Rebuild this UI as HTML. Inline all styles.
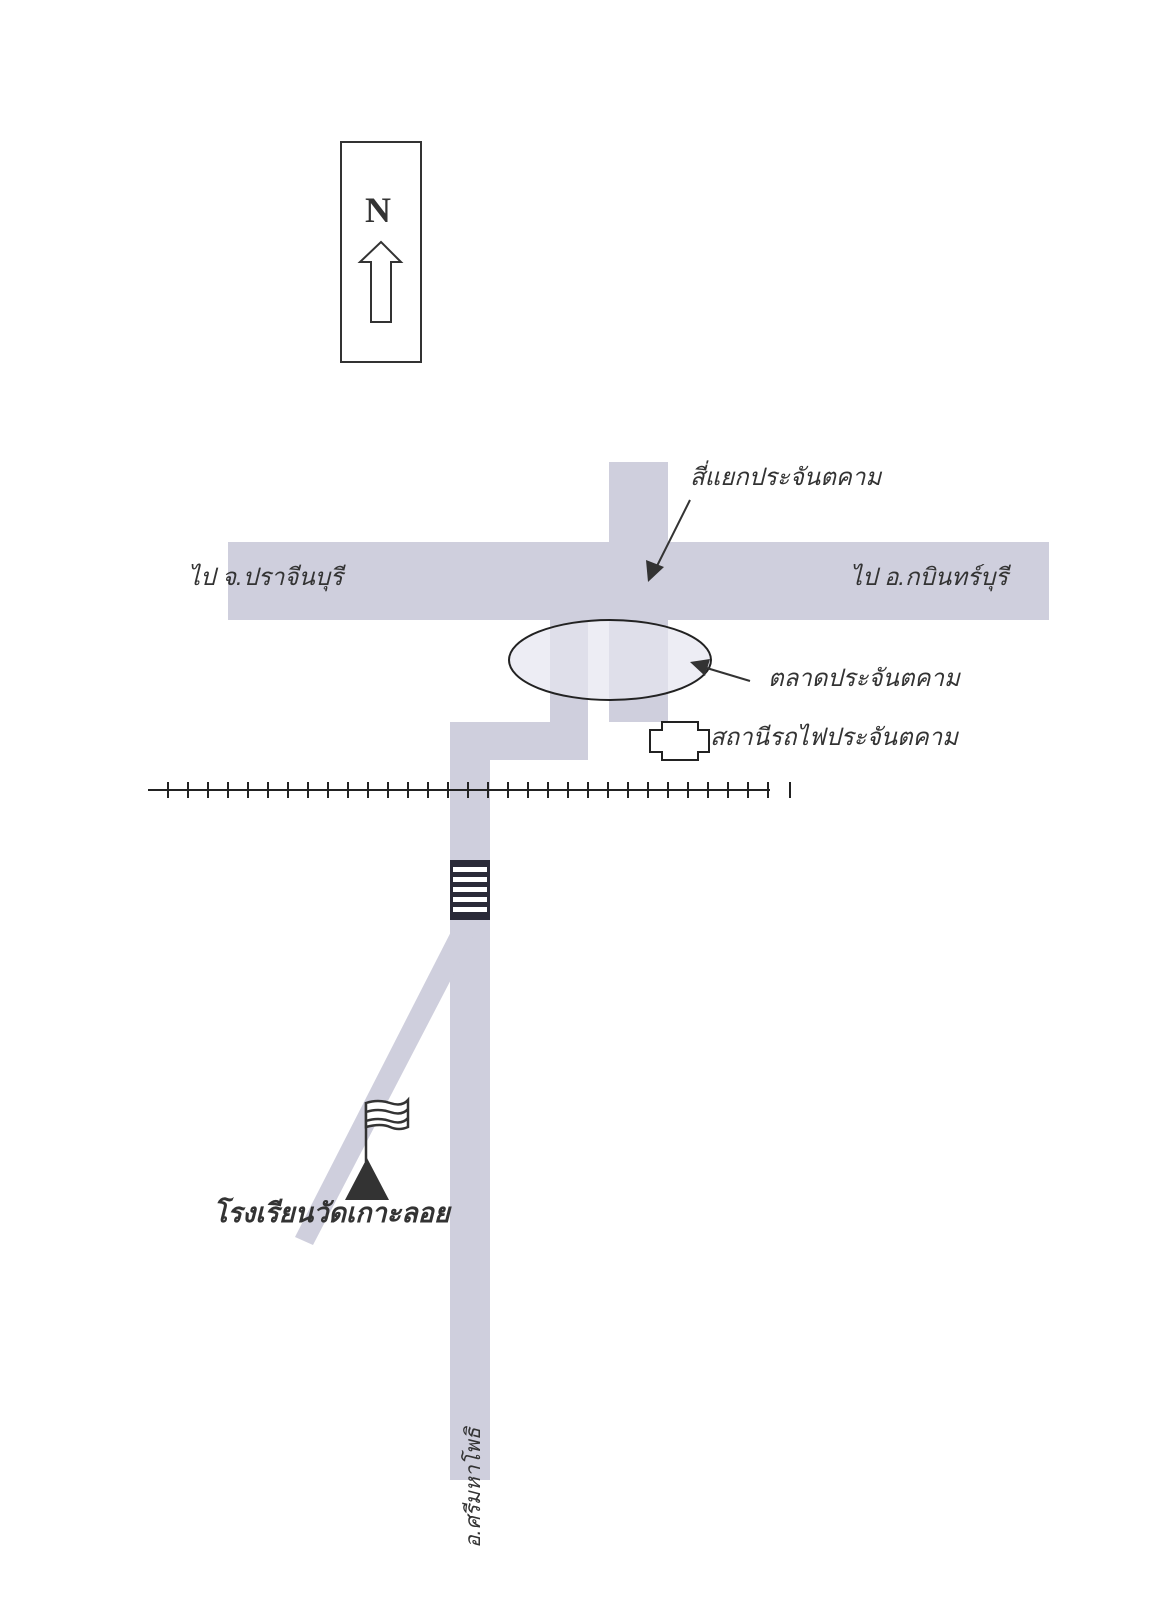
<!DOCTYPE html>
<html><head><meta charset="utf-8"><style>
body{margin:0;background:#fff}
svg{display:block}
text{font-family:"Liberation Sans","Noto Sans CJK SC",sans-serif;font-style:italic;fill:#333}
</style></head><body>
<svg width="1166" height="1617" viewBox="0 0 1166 1617">
<g fill="#cfcfdd">
<rect x="609" y="462" width="59" height="260"/>
<rect x="228" y="542" width="821" height="78"/>
<rect x="550" y="620" width="38" height="140"/>
<rect x="450" y="722" width="138" height="38"/>
<rect x="450" y="722" width="40" height="758"/>
<polygon points="458,918 483,918 313,1245 295,1237"/>
</g>
<ellipse cx="610" cy="660" rx="101" ry="40" fill="#e6e6f0" fill-opacity="0.7" stroke="#222" stroke-width="2"/>
<g stroke="#333" stroke-width="2" fill="none">
<line x1="690" y1="500" x2="655" y2="570"/>
<line x1="750" y1="681" x2="700" y2="666"/>
</g>
<polygon points="648,582 646,560 664,567" fill="#333"/>
<polygon points="690,662 710,659 705,676" fill="#333"/>
<polygon points="662,722 698,722 698,730 709,730 709,752 698,752 698,760 662,760 662,752 650,752 650,730 662,730" fill="#fff" stroke="#222" stroke-width="2"/>
<line x1="148" y1="790" x2="770" y2="790" stroke="#222" stroke-width="2"/>
<g stroke="#222" stroke-width="2">
<line x1="168" y1="782" x2="168" y2="798"/><line x1="188" y1="782" x2="188" y2="798"/><line x1="208" y1="782" x2="208" y2="798"/><line x1="228" y1="782" x2="228" y2="798"/><line x1="248" y1="782" x2="248" y2="798"/><line x1="268" y1="782" x2="268" y2="798"/><line x1="288" y1="782" x2="288" y2="798"/><line x1="308" y1="782" x2="308" y2="798"/><line x1="328" y1="782" x2="328" y2="798"/><line x1="348" y1="782" x2="348" y2="798"/><line x1="368" y1="782" x2="368" y2="798"/><line x1="388" y1="782" x2="388" y2="798"/><line x1="408" y1="782" x2="408" y2="798"/><line x1="428" y1="782" x2="428" y2="798"/><line x1="448" y1="782" x2="448" y2="798"/><line x1="468" y1="782" x2="468" y2="798"/><line x1="488" y1="782" x2="488" y2="798"/><line x1="508" y1="782" x2="508" y2="798"/><line x1="528" y1="782" x2="528" y2="798"/><line x1="548" y1="782" x2="548" y2="798"/><line x1="568" y1="782" x2="568" y2="798"/><line x1="588" y1="782" x2="588" y2="798"/><line x1="608" y1="782" x2="608" y2="798"/><line x1="628" y1="782" x2="628" y2="798"/><line x1="648" y1="782" x2="648" y2="798"/><line x1="668" y1="782" x2="668" y2="798"/><line x1="688" y1="782" x2="688" y2="798"/><line x1="708" y1="782" x2="708" y2="798"/><line x1="728" y1="782" x2="728" y2="798"/><line x1="748" y1="782" x2="748" y2="798"/><line x1="768" y1="782" x2="768" y2="798"/><line x1="790" y1="782" x2="790" y2="798"/>
</g>
<rect x="450" y="860" width="40" height="60" fill="#2a2a38"/>
<g fill="#fff"><rect x="453" y="867" width="34" height="5"/><rect x="453" y="877" width="34" height="5"/><rect x="453" y="887" width="34" height="5"/><rect x="453" y="897" width="34" height="5"/><rect x="453" y="907" width="34" height="5"/></g>
<rect x="341" y="142" width="80" height="220" fill="none" stroke="#333" stroke-width="2"/>
<text x="378" y="222" text-anchor="middle" style="font-family:'Liberation Serif',serif;font-style:normal;font-weight:bold;font-size:36px;fill:#333">N</text>
<polygon points="381,242 401,262 391,262 391,322 371,322 371,262 360,262" fill="#fff" stroke="#333" stroke-width="2"/>
<line x1="366" y1="1102" x2="366" y2="1162" stroke="#333" stroke-width="2.5"/>
<path d="M366,1103 q12,-4 24,0 t18,-3 v27 q-9,4 -18,0 t-24,0 Z M366,1112 q12,-4 24,0 t18,-3 M366,1121 q12,-4 24,0 t18,-3" fill="#fff" stroke="#333" stroke-width="2.5"/>
<polygon points="367,1158 345,1200 389,1200" fill="#333"/>
<text x="690" y="485" font-size="24">สี่แยกประจันตคาม</text>
<text x="188" y="585" font-size="24">ไป จ.ปราจีนบุรี</text>
<text x="850" y="585" font-size="24">ไป อ.กบินทร์บุรี</text>
<text x="768" y="686" font-size="24">ตลาดประจันตคาม</text>
<text x="710" y="745" font-size="24">สถานีรถไฟประจันตคาม</text>
<text x="213" y="1222" font-size="27" font-weight="bold">โรงเรียนวัดเกาะลอย</text>
<text transform="translate(480,1548) rotate(-90)" font-size="21">อ.ศรีมหาโพธิ</text>
</svg>
</body></html>
